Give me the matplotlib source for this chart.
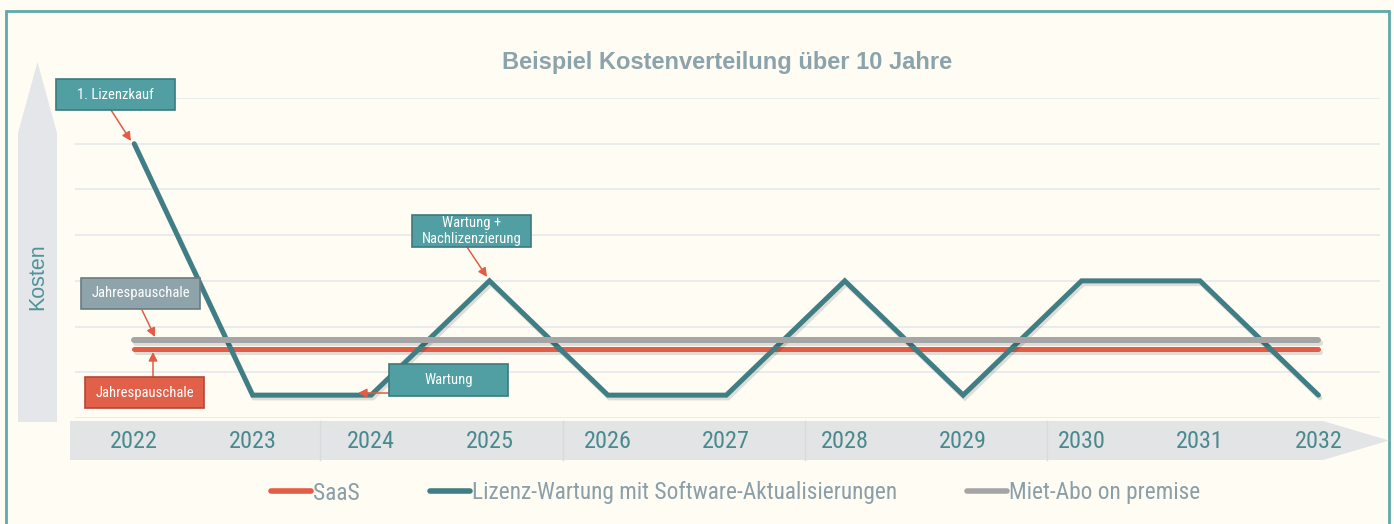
import matplotlib
matplotlib.use('Agg')
import matplotlib.pyplot as plt
from matplotlib import font_manager
from matplotlib.patches import Polygon, Rectangle
from matplotlib.lines import Line2D
import matplotlib.patheffects as pe
import matplotlib.transforms as mtransforms

# ---------------- data ----------------
years = [2022, 2023, 2024, 2025, 2026, 2027, 2028, 2029, 2030, 2031, 2032]
lizenz_wartung = [6, 0.5, 0.5, 3, 0.5, 0.5, 3, 0.5, 3, 3, 0.5]
saas = [1.5, 1.5, 1.5, 1.5, 1.5, 1.5, 1.5, 1.5, 1.5, 1.5, 1.5]
miet_abo = [1.7, 1.7, 1.7, 1.7, 1.7, 1.7, 1.7, 1.7, 1.7, 1.7, 1.7]
series_labels = ["SaaS", "Lizenz-Wartung mit Software-Aktualisierungen", "Miet-Abo on premise"]
title_text = "Beispiel Kostenverteilung über 10 Jahre"
y_label = "Kosten"

# ---------------- fonts ----------------
names = {f.name for f in font_manager.fontManager.ttflist}
NARROW = None
for cand in ["Liberation Sans Narrow", "Roboto Condensed", "DejaVu Sans Condensed", "Open Sans Condensed"]:
    if cand in names:
        NARROW = cand
        break
narrow_kw = {"family": NARROW} if NARROW else {"family": "DejaVu Sans", "stretch": "condensed"}
REG = "Liberation Sans"

# ---------------- colours ----------------
BG = "#fffcf4"
BORDER = "#5fa8aa"
TEAL = "#3f7e84"
RED = "#e25c46"
GRAY = "#a5a5a5"
TITLE_C = "#8ba3aa"
YEAR_C = "#4a8a8e"
LEG_C = "#8a9fa8"
BAND = "#e3e4e6"
GRID = "#e6e8ec"

W, H = 1394, 524
fig = plt.figure(figsize=(W / 100, H / 100), dpi=100, facecolor=BG)


def fx(x):
    return x / W


def fy(y):
    return 1 - y / H


# border
fig.patches.append(Rectangle((fx(6), fy(530)), fx(1389) - fx(6), fy(11) - fy(530),
                             transform=fig.transFigure, fill=False, edgecolor=BORDER, lw=2, zorder=-2))

# main axes
ax = fig.add_axes([fx(75), fy(418), fx(1380) - fx(75), fy(98) - fy(418)])
ax.set_facecolor('none')
ax.set_xlim(2021.5, 2032.52)
ax.set_ylim(0, 7)
ax.set_yticks(range(8))
ax.set_xticks([])
ax.tick_params(left=False, labelleft=False)
for s in ax.spines.values():
    s.set_visible(False)
ax.yaxis.grid(True, color=GRID, lw=1.2)
ax.set_axisbelow(True)

shadow = [pe.SimpleLineShadow(offset=(1.2, -2.0), shadow_color='k', alpha=0.12), pe.Normal()]
ax.plot(years, saas, color=RED, lw=3.6, solid_capstyle='round', path_effects=shadow, zorder=3)
ax.plot(years, lizenz_wartung, color=TEAL, lw=3.6, solid_joinstyle='miter', solid_capstyle='round',
        path_effects=shadow, zorder=4)
ax.plot(years, miet_abo, color=GRAY, lw=4.3, solid_capstyle='round', path_effects=shadow, zorder=5)

# x-axis band (arrow)
band = Polygon([(fx(70), fy(421)), (fx(1323), fy(421)), (fx(1389), fy(440.5)),
                (fx(1323), fy(460)), (fx(70), fy(460))], closed=True,
               transform=fig.transFigure, facecolor=BAND, edgecolor='none', zorder=-2)
fig.patches.append(band)
for sx in [320, 563, 805, 1047]:
    fig.lines.append(Line2D([fx(sx), fx(sx)], [fy(421), fy(460)], transform=fig.transFigure,
                            color="#d6dbde", lw=1, zorder=-1))
blend = mtransforms.blended_transform_factory(ax.transData, fig.transFigure)
for yr in years:
    ax.text(yr, fy(441), str(yr), transform=blend, ha='center', va='center',
            color=YEAR_C, fontsize=17.5, clip_on=False, **narrow_kw)

# y-axis arrow
yarrow = Polygon([(fx(18), fy(422)), (fx(18), fy(133)), (fx(37.5), fy(62)),
                  (fx(57), fy(133)), (fx(57), fy(422))], closed=True,
                 transform=fig.transFigure, facecolor="#e5e6e9", edgecolor='none', zorder=-2)
fig.patches.append(yarrow)
fig.text(fx(38), fy(277), y_label, rotation=90, ha='center', va='center',
         color="#4f9499", fontsize=15.5, family=REG)

# title
fig.text(fx(727), fy(63), title_text, ha='center', va='center', color=TITLE_C,
         fontsize=17, fontweight='bold', family=REG)


# annotation boxes
def box(x0, y0, x1, y1, text, fc, ec, ax_from, ay_from, ax_to, ay_to):
    fig.patches.append(Rectangle((fx(x0), fy(y1)), fx(x1) - fx(x0), fy(y0) - fy(y1),
                                 transform=fig.transFigure, facecolor=fc, edgecolor=ec,
                                 lw=1.2, zorder=6))
    fig.text(fx((x0 + x1) / 2), fy((y0 + y1) / 2), text, ha='center', va='center',
             color='white', fontsize=10.5, zorder=7, linespacing=1.1, **narrow_kw)
    ax.annotate('', xy=(ax_to, H - ay_to), xytext=(ax_from, H - ay_from),
                xycoords='figure pixels', textcoords='figure pixels',
                arrowprops=dict(arrowstyle='-|>', color=RED, lw=1.1, mutation_scale=13,
                                shrinkA=0, shrinkB=0), zorder=7)


TBOX = "#519fa3"
TEDGE = "#3b7a7e"
box(56, 79, 175, 110, "1. Lizenzkauf", TBOX, TEDGE, 111, 110, 131, 141)
box(412, 215, 531, 247, "Wartung +\nNachlizenzierung", TBOX, TEDGE, 467, 247, 487, 277)
box(389, 364, 508, 396, "Wartung", TBOX, TEDGE, 389, 393, 358, 393)
box(81, 278, 200, 309, "Jahrespauschale", "#8fa3aa", "#6a7c83", 142, 310, 155, 337)
box(85, 377, 204, 408, "Jahrespauschale", "#e0604a", "#b54634", 153, 377, 153, 352)

# legend
handles = [Line2D([], [], color=RED, lw=4, solid_capstyle='round'),
           Line2D([], [], color=TEAL, lw=4, solid_capstyle='round'),
           Line2D([], [], color=GRAY, lw=4, solid_capstyle='round')]
leg = fig.legend(handles, series_labels, loc='center', bbox_to_anchor=(fx(736), fy(493)),
                 ncol=3, frameon=False, handlelength=1.7, handletextpad=0.1, columnspacing=3.0,
                 prop=font_manager.FontProperties(size=16.8, **narrow_kw), labelcolor=LEG_C)

fig.savefig("out.png", dpi=100, facecolor=BG)
